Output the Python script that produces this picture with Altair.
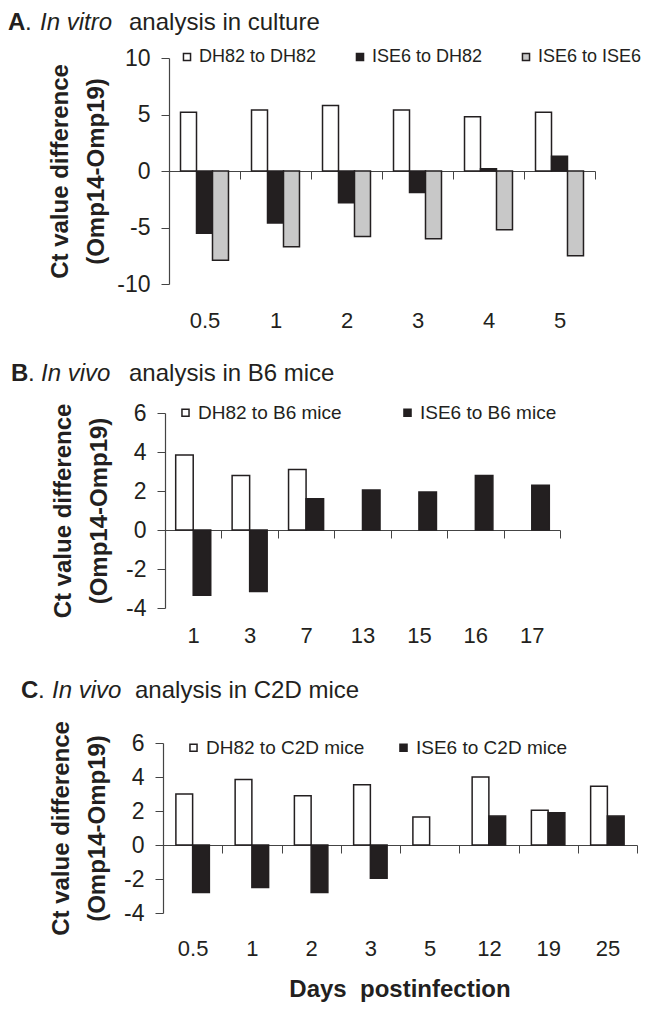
import altair as alt
import pandas as pd

FONT = "Liberation Sans"
INK = "#231f20"

# ---------------- data ----------------
a_days = ["0.5", "1", "2", "3", "4", "5"]
a_series = ["DH82 to DH82", "ISE6 to DH82", "ISE6 to ISE6"]
a_dh82_dh82 = [5.2, 5.4, 5.8, 5.4, 4.8, 5.2]
a_ise6_dh82 = [-5.5, -4.6, -2.8, -1.9, 0.2, 1.3]
a_ise6_ise6 = [-7.9, -6.7, -5.8, -6.0, -5.2, -7.5]
a_colors = ["#ffffff", INK, "#c8c8c8"]

b_days = ["1", "3", "7", "13", "15", "16", "17"]
b_series = ["DH82 to B6 mice", "ISE6 to B6 mice"]
b_dh82 = [3.85, 2.8, 3.1, None, None, None, None]
b_ise6 = [-3.35, -3.15, 1.6, 2.05, 1.95, 2.8, 2.3]
b_colors = ["#ffffff", INK]

c_days = ["0.5", "1", "2", "3", "5", "12", "19", "25"]
c_series = ["DH82 to C2D mice", "ISE6 to C2D mice"]
c_dh82 = [3.0, 3.85, 2.9, 3.55, 1.65, 4.0, 2.05, 3.45]
c_ise6 = [-2.8, -2.5, -2.8, -1.95, None, 1.7, 1.9, 1.7]
c_colors = ["#ffffff", INK]


def long_df(days, series, columns):
    rows = []
    for s, col in zip(series, columns):
        for d, v in zip(days, col):
            if v is not None:
                rows.append({"day": d, "series": s, "value": v})
    return pd.DataFrame(rows)


a_df = long_df(a_days, a_series, [a_dh82_dh82, a_ise6_dh82, a_ise6_ise6])
b_df = long_df(b_days, b_series, [b_dh82, b_ise6])
c_df = long_df(c_days, c_series, [c_dh82, c_ise6])


def panel(df, days, series, colors, xrange, yrange, ydomain, yticks, xoff_pad,
          xaxis_offset, label_pad, yaxis_offset, title_pad, legend_x, legend_y,
          col_pad, legend_font):
    return alt.Chart(df).mark_bar(stroke=INK, strokeWidth=1.5).encode(
        x=alt.X("day:N", sort=days,
                scale=alt.Scale(domain=days, range=xrange, paddingInner=0, paddingOuter=0),
                axis=alt.Axis(title=None, orient="bottom", offset=xaxis_offset,
                              tickBand="extent", tickSize=8, tickColor="#444",
                              domainColor="#444", domainWidth=1.2,
                              labelPadding=label_pad, labelAngle=0,
                              labelFontSize=22, labelFont=FONT, labelColor=INK)),
        xOffset=alt.XOffset("series:N", sort=series,
                            scale=alt.Scale(domain=series, paddingInner=0, paddingOuter=xoff_pad)),
        y=alt.Y("value:Q",
                scale=alt.Scale(domain=ydomain, range=yrange, nice=False),
                axis=alt.Axis(title=["Ct value difference", "(Omp14-Omp19)"],
                              orient="left", offset=yaxis_offset, values=yticks,
                              labelExpr="'' + datum.value",
                              tickSize=8, tickColor="#444", domainColor="#444",
                              domainWidth=1.2, labelPadding=11,
                              labelFontSize=23, labelFont=FONT, labelColor=INK,
                              titleFont=FONT, titleFontSize=24, titleFontWeight="bold",
                              titleColor=INK, titleLineHeight=36, titlePadding=title_pad)),
        y2=alt.datum(0),
        color=alt.Color("series:N",
                        scale=alt.Scale(domain=series, range=colors),
                        legend=alt.Legend(title=None, orient="none", legendX=legend_x,
                                          legendY=legend_y, direction="horizontal",
                                          symbolType="square", symbolSize=50,
                                          symbolStrokeColor=INK, symbolStrokeWidth=1.5,
                                          labelFont=FONT, labelFontSize=legend_font,
                                          labelColor=INK, labelOffset=3,
                                          columnPadding=col_pad)),
    )


def text(t, x, y, size, weight="normal", style="normal", align="left", baseline="alphabetic"):
    return alt.Chart(alt.Data(values=[{}])).mark_text(
        text=t, align=align, baseline=baseline, font=FONT, fontSize=size,
        fontWeight=weight, fontStyle=style, color=INK,
    ).encode(x=alt.value(x), y=alt.value(y))


pa = panel(a_df, a_days, a_series, a_colors, [4, 430], [226, 0], [-10, 10],
           [-10, -5, 0, 5, 10], 0.72, -742, 131, -4, 8, 13, -10, 34, 18)
pb = panel(b_df, b_days, b_series, b_colors, [0, 395], [550, 355], [-4, 6],
           [-4, -2, 0, 2, 4, 6], 0.61, -383, 87, 0, 14, 11, 345, 56, 19)
pc = panel(c_df, c_days, c_series, c_colors, [-2, 472], [855, 685], [-4, 6],
           [-4, -2, 0, 2, 4, 6], 0.77, -68, 85, 2, 14, 19, 680, 29, 19)

titles = [
    text("A", -157, -28, 24, weight="bold"),
    text(".", -140, -28, 24),
    text("In vitro", -125, -28, 24, style="italic"),
    text("analysis in culture", -36, -28, 24),
    text("B", -154, 323, 24, weight="bold"),
    text(".", -137, 323, 24),
    text("In vivo", -124, 323, 24, style="italic"),
    text("analysis in B6 mice", -36, 323, 24),
    text("C", -144, 640, 24, weight="bold"),
    text(".", -127, 640, 24),
    text("In vivo", -113, 640, 24, style="italic"),
    text("analysis in C2D mice", -30, 640, 24),
    text("Days\u00a0 postinfection", 235, 932, 24, weight="bold", align="center", baseline="middle"),
]

chart = alt.layer(pa, pb, pc, *titles).resolve_scale(
    x="independent", y="independent", color="independent", xOffset="independent"
).resolve_axis(x="independent", y="independent").resolve_legend(
    color="independent"
).properties(
    width=472, height=855,
    padding={"left": 157, "top": 50, "right": 6, "bottom": 92},
    autosize=alt.AutoSizeParams(type="none"),
).configure_view(stroke=None).configure_axis(grid=False)

chart.save("out.html", embed_options={"renderer": "svg", "actions": False})
